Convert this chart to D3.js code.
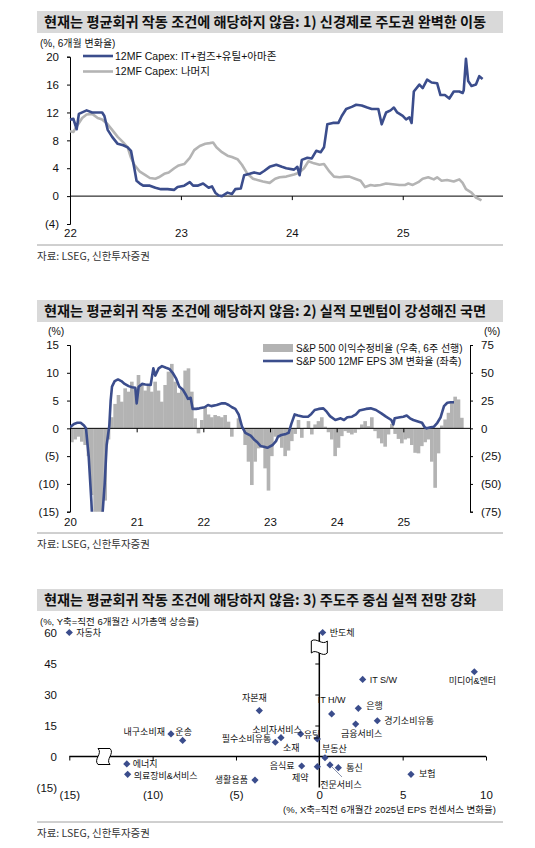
<!DOCTYPE html>
<html>
<head>
<meta charset="utf-8">
<script src="https://cdn.jsdelivr.net/npm/d3@7"></script>
<style>
  body { margin: 0; background: #fff; }
  text { font-family: 'Liberation Sans', 'Noto Sans CJK KR', sans-serif; fill: #111; }
</style>
</head>
<body>
<svg id="chart" width="535" height="848"></svg>
<script>
// ---------- panel 1: 12MF capex, 6m change (%) ----------
var capexDates = [2022.00,2022.03,2022.06,2022.08,2022.15,2022.20,2022.29,2022.31,2022.34,2022.38,2022.43,2022.48,2022.52,2022.55,2022.58,2022.60,2022.63,2022.66,2022.72,2022.77,2022.82,2022.88,2022.94,2022.97,2023.03,2023.08,2023.11,2023.15,2023.20,2023.25,2023.28,2023.31,2023.34,2023.37,2023.42,2023.46,2023.49,2023.54,2023.57,2023.62,2023.66,2023.71,2023.75,2023.80,2023.86,2023.91,2023.95,2024.02,2024.05,2024.07,2024.09,2024.14,2024.18,2024.22,2024.26,2024.29,2024.32,2024.37,2024.42,2024.45,2024.49,2024.54,2024.58,2024.63,2024.68,2024.72,2024.78,2024.81,2024.85,2024.89,2024.92,2024.95,2025.00,2025.03,2025.06,2025.08,2025.10,2025.15,2025.18,2025.22,2025.26,2025.31,2025.34,2025.38,2025.42,2025.46,2025.51,2025.54,2025.55,2025.57,2025.59,2025.62,2025.66,2025.69,2025.72];
var capexTech = [11.0,11.1,9.6,11.8,12.3,12.0,12.0,11.5,9.5,8.5,7.5,7.3,7.0,6.5,4.0,2.2,1.8,1.5,1.5,1.2,1.0,1.0,0.9,1.3,1.5,2.0,1.5,1.5,1.8,1.2,1.4,0.5,0.1,0.0,0.5,0.3,1.0,1.1,3.0,3.2,3.4,3.2,3.6,4.2,4.5,4.2,4.0,3.8,4.2,3.0,5.2,5.5,5.4,6.5,6.3,7.0,10.3,10.5,10.5,11.5,12.5,12.8,13.1,13.0,12.7,12.5,12.5,10.3,12.0,12.3,12.7,12.0,11.5,11.0,11.3,10.5,15.0,16.0,15.5,16.7,16.3,16.2,14.5,14.5,14.0,15.0,15.0,14.8,15.2,19.7,16.5,15.8,16.0,17.2,16.8];

var restDates = [2022.00,2022.03,2022.06,2022.11,2022.15,2022.20,2022.25,2022.29,2022.34,2022.38,2022.43,2022.48,2022.52,2022.55,2022.58,2022.63,2022.68,2022.72,2022.77,2022.80,2022.85,2022.89,2022.94,2022.98,2023.03,2023.08,2023.12,2023.17,2023.22,2023.26,2023.29,2023.32,2023.37,2023.42,2023.46,2023.51,2023.55,2023.60,2023.65,2023.69,2023.74,2023.80,2023.85,2023.89,2023.95,2024.02,2024.06,2024.11,2024.15,2024.20,2024.25,2024.29,2024.34,2024.38,2024.43,2024.48,2024.52,2024.57,2024.62,2024.66,2024.71,2024.75,2024.80,2024.85,2024.91,2024.97,2025.02,2025.05,2025.09,2025.14,2025.18,2025.23,2025.28,2025.31,2025.35,2025.40,2025.46,2025.51,2025.54,2025.57,2025.62,2025.66,2025.71];
var capexRest = [9.3,9.2,10.0,11.2,11.7,11.8,11.2,11.0,10.3,9.5,8.5,7.7,7.0,5.5,4.5,3.5,3.0,2.6,2.5,2.7,3.2,3.4,4.0,4.4,4.6,5.5,6.6,7.2,7.5,7.6,7.7,7.0,6.3,5.8,5.6,5.3,4.5,3.2,2.5,2.3,2.1,1.9,2.5,2.7,2.8,3.1,3.3,4.0,5.0,4.7,4.5,4.6,3.5,2.8,2.7,2.8,2.8,2.5,2.2,1.3,1.6,1.5,1.6,1.8,1.7,1.6,1.6,1.8,1.6,2.0,2.5,2.7,2.4,2.7,2.2,2.3,2.1,2.4,1.9,1.0,0.5,-0.2,-0.6];

var capexTicks = [-4, 0, 4, 8, 12, 16, 20];
var capexYears = [2022, 2023, 2024, 2025];
var capexNames = ["12MF Capex: IT+컴즈+유틸+아마존", "12MF Capex: 나머지"];

// ---------- panel 2: S&P 500 revision ratio (bars, right) and 12MF EPS 3M change (line, left) ----------
var revDates = [2020.00,2020.05,2020.10,2020.15,2020.20,2020.25,2020.30,2020.35,2020.40,2020.45,2020.50,2020.55,2020.60,2020.65,2020.70,2020.75,2020.80,2020.85,2020.90,2020.95,2021.00,2021.05,2021.10,2021.15,2021.20,2021.25,2021.30,2021.35,2021.40,2021.45,2021.50,2021.55,2021.60,2021.65,2021.70,2021.75,2021.80,2021.85,2021.90,2021.95,2022.00,2022.05,2022.10,2022.15,2022.20,2022.25,2022.30,2022.35,2022.40,2022.45,2022.50,2022.55,2022.60,2022.65,2022.70,2022.75,2022.80,2022.85,2022.90,2022.95,2023.00,2023.05,2023.10,2023.15,2023.20,2023.25,2023.30,2023.35,2023.40,2023.45,2023.50,2023.55,2023.60,2023.65,2023.70,2023.75,2023.80,2023.85,2023.90,2023.95,2024.00,2024.05,2024.10,2024.15,2024.20,2024.25,2024.30,2024.35,2024.40,2024.45,2024.50,2024.55,2024.60,2024.65,2024.70,2024.75,2024.80,2024.85,2024.90,2024.95,2025.00,2025.05,2025.10,2025.15,2025.20,2025.25,2025.30,2025.35,2025.40,2025.45,2025.50,2025.55,2025.60,2025.65,2025.70,2025.75,2025.80,2025.85];
var revRatio = [-12.5,-10,-7.5,-12,-15,-25,-60,-80,-90,-90,-65,-10,10,22,30,24,36,33,42,36,48,39,34,39,33,42,34,24,39,51,58,42,32,35,52,54,33,9,-4.5,7.5,19.5,12.5,10,12,11,10,12,6,-7.5,0,9,1.5,-15,-30,-51,-30,-18,-15,-36,-56,-25,-7.5,-8.5,-17.5,-25,-20,-11.5,-5,7.5,-8.5,0.5,6.5,-5.5,3.5,6.5,10,1.5,-3.5,-10,-25,-17.5,-7,-2.5,-4,-5.5,-4,-1,3.5,6.5,2,10,-2.5,-9,-13.5,-16.5,-5.5,4,-5,-9.5,-13.5,-10,-9,-15,-22,-22.5,-16,-12.5,-10,-30,-53.5,-22.5,2.5,8,14,23,28.5,26,9.5];

var epsDates = [2020.00,2020.06,2020.11,2020.16,2020.21,2020.24,2020.28,2020.32,2020.34,2020.39,2020.44,2020.49,2020.52,2020.55,2020.59,2020.61,2020.63,2020.67,2020.72,2020.77,2020.82,2020.88,2020.93,2020.98,2021.00,2021.03,2021.08,2021.13,2021.21,2021.25,2021.28,2021.33,2021.38,2021.44,2021.49,2021.54,2021.59,2021.64,2021.69,2021.74,2021.77,2021.81,2021.84,2021.89,2021.94,2022.02,2022.07,2022.12,2022.20,2022.28,2022.33,2022.38,2022.43,2022.48,2022.53,2022.58,2022.63,2022.71,2022.76,2022.81,2022.86,2022.91,2022.96,2023.04,2023.09,2023.12,2023.17,2023.24,2023.28,2023.32,2023.37,2023.42,2023.50,2023.57,2023.62,2023.67,2023.73,2023.80,2023.85,2023.90,2023.98,2024.06,2024.11,2024.16,2024.23,2024.29,2024.34,2024.44,2024.51,2024.59,2024.67,2024.74,2024.82,2024.85,2024.87,2024.95,2025.00,2025.05,2025.10,2025.15,2025.23,2025.28,2025.32,2025.35,2025.41,2025.46,2025.51,2025.56,2025.61,2025.66,2025.71,2025.76];
var epsChange = [0.2,0.8,1.0,1.0,0.5,0.0,-5,-13,-18,-22,-22,-15,-10,-3,0.5,5,7.5,8.5,8.8,8.5,8.0,7.6,7.4,7.3,4.5,7.5,8.0,7.9,7.8,10.8,9.5,10.8,11.2,10.9,10.7,10.0,9.0,7.5,7.0,6.0,5.3,5.5,3.5,3.5,3.6,3.8,4.2,4.0,4.2,4.5,4.5,4.2,3.8,3.5,2.5,0.3,-0.8,-1.3,-2.0,-2.5,-3.2,-3.3,-3.5,-3.0,-2.3,-1.5,-1.2,-1.0,-0.8,0.8,2.5,2.3,2.1,2.1,2.6,3.3,3.5,3.6,3.0,2.2,1.5,1.8,1.5,2.0,2.1,2.5,3.2,3.5,3.6,3.3,2.7,2.1,1.5,0.7,1.8,2.0,2.1,2.3,1.8,1.5,1.2,1.0,0.2,0.0,0.2,0.3,1.0,2.0,4.0,4.6,4.7,4.7];

var epsTicksL = [-15, -10, -5, 0, 5, 10, 15];
var epsTicksR = [-75, -50, -25, 0, 25, 50, 75];
var epsYears = [2020, 2021, 2022, 2023, 2024, 2025];
var epsNames = ["S&P 500 이익수정비율 (우축, 6주 선행)", "S&P 500 12MF EPS 3M 변화율 (좌축)"];

// ---------- panel 3: sectors, 6m EPS revision (x) vs 6m market-cap change (y) ----------
var sectors = ["자동차","반도체","미디어&엔터","IT S/W","자본재","IT H/W","은행","경기소비유통","금융서비스","내구소비재","운송","소비자서비스","필수소비유통","유틸","소재","부동산","에너지","의료장비&서비스","생활용품","음식료","제약","전문서비스","통신","보험"];
var epsRev = [-15.0,0.2,9.3,2.6,-3.6,0.74,2.34,3.48,2.18,-8.9,-8.2,-2.3,-2.64,-1.12,-0.12,0.34,-11.55,-11.5,-3.86,-1.06,-0.12,0.64,1.14,5.5];
var mcapChg = [60,60,41.0,37.3,22.2,20.6,23.3,17.3,15.7,10.9,7.8,9.1,6.9,10.9,8.5,-0.6,-3.6,-8.6,-11.4,-4.6,-4.9,-4.1,-5.4,-8.6];
var scatterTicksX = [-15, -10, -5, 0, 5, 10];
var scatterTicksY = [-15, 0, 15, 30, 45, 60];

var titles = [
  "현재는 평균회귀 작동 조건에 해당하지 않음: 1) 신경제로 주도권 완벽한 이동",
  "현재는 평균회귀 작동 조건에 해당하지 않음: 2) 실적 모멘텀이 강성해진 국면",
  "현재는 평균회귀 작동 조건에 해당하지 않음: 3) 주도주 중심 실적 전망 강화"
];
var sourceText = "자료: LSEG, 신한투자증권";

// label placement for the scatter (dx, dy, anchor)
var labelPlace = {
  "자동차": [7, 0, "start"], "반도체": [7, 0, "start"], "미디어&엔터": [-2, 9, "middle"],
  "IT S/W": [7, 0, "start"], "자본재": [-5, -13, "middle"], "IT H/W": [0, -14, "middle"],
  "은행": [8, -2, "start"], "경기소비유통": [7, 0, "start"], "금융서비스": [6, 10, "middle"],
  "내구소비재": [-6, -2, "end"], "운송": [1, -9, "middle"], "소비자서비스": [-4, -8, "middle"],
  "필수소비유통": [-4, -3, "end"], "유틸": [3, 1, "start"], "소재": [-26, 9, "middle"],
  "부동산": [-3, -9, "start"], "에너지": [6, 0, "start"], "의료장비&서비스": [6, 2, "start"],
  "생활용품": [-7, 0, "end"], "음식료": [-7, 0, "end"], "제약": [-17, 11, "middle"],
  "전문서비스": [11, 20, "middle"], "통신": [8, 0, "start"], "보험": [8, 0, "start"]
};

var BLUE = "#3b4d8c", GREY = "#b4b4b4", BAR = "#b3b3b3";
var KR = "'Noto Sans CJK KR', sans-serif";
var paren = function(d) { return d < 0 ? "(" + (-d) + ")" : String(d); };

var svg = d3.select("#chart");

function titleBar(y, txt) {
  svg.append("rect").attr("x", 37).attr("y", y).attr("width", 466).attr("height", 22).attr("fill", "#d9d9d9");
  svg.append("text").attr("x", 44).attr("y", y + 11).attr("dy", "0.36em")
    .style("font-family", KR).style("font-weight", "bold").style("font-size", "14.2px")
    .text(txt);
}

function source(y) {
  svg.append("line").attr("x1", 37).attr("x2", 503).attr("y1", y).attr("y2", y)
    .attr("stroke", "#a0a0a0").attr("stroke-width", 1);
  svg.append("text").attr("x", 37).attr("y", y + 11).attr("dy", "0.35em")
    .style("font-family", KR).style("font-size", "10.5px").style("fill", "#333")
    .text(sourceText);
}

function styleAxis(g, size) {
  g.selectAll("text").style("font-size", size || "11px").style("fill", "#111");
  g.selectAll("line").attr("stroke", "#000");
  g.select(".domain").attr("stroke", "#000");
}

// ================= panel 1 =================
titleBar(11, titles[0]);
(function() {
  var x = d3.scaleLinear().domain([2022, 2025.904]).range([70, 503]);
  var y = d3.scaleLinear().domain([-4, 20]).range([224, 56.7]);

  svg.append("text").attr("x", 40).attr("y", 43).attr("dy", "0.35em")
    .style("font-size", "10px").text("(%, 6개월 변화율)");

  var ga = svg.append("g").attr("transform", "translate(70,0)")
    .call(d3.axisLeft(y).tickValues(capexTicks).tickSize(3).tickPadding(8).tickFormat(paren));
  styleAxis(ga, "11.5px");

  svg.append("line").attr("x1", 70).attr("x2", 503).attr("y1", y(0)).attr("y2", y(0))
    .attr("stroke", "#000");
  var gt = svg.append("g").attr("transform", "translate(0," + y(0) + ")")
    .call(d3.axisBottom(x).tickValues(capexYears.slice(1)).tickSize(4).tickFormat(""));
  gt.select(".domain").remove();
  gt.selectAll("line").attr("stroke", "#000");

  var gl = svg.append("g").attr("transform", "translate(0,229)")
    .call(d3.axisBottom(x).tickValues(capexYears).tickSize(0).tickPadding(0)
      .tickFormat(function(d) { return String(d).slice(2); }));
  gl.select(".domain").remove();
  styleAxis(gl, "11.5px");

  var line = d3.line().x(function(d) { return x(d[0]); }).y(function(d) { return y(d[1]); });
  svg.append("path").datum(d3.zip(restDates, capexRest)).attr("d", line)
    .attr("fill", "none").attr("stroke", GREY).attr("stroke-width", 2.6).attr("stroke-linejoin", "round");
  svg.append("path").datum(d3.zip(capexDates, capexTech)).attr("d", line)
    .attr("fill", "none").attr("stroke", BLUE).attr("stroke-width", 2.6).attr("stroke-linejoin", "round");

  [BLUE, GREY].forEach(function(c, i) {
    var ly = 56 + i * 15.5;
    svg.append("line").attr("x1", 83).attr("x2", 113).attr("y1", ly).attr("y2", ly)
      .attr("stroke", c).attr("stroke-width", 2.6);
    svg.append("text").attr("x", 115).attr("y", ly).attr("dy", "0.35em")
      .style("font-size", "10.5px").text(capexNames[i]);
  });
})();
source(245);

// ================= panel 2 =================
titleBar(300, titles[1]);
(function() {
  var x = d3.scaleLinear().domain([2020, 2026]).range([70, 470]);
  var yL = d3.scaleLinear().domain([-15, 15]).range([511.7, 345]);
  var yR = d3.scaleLinear().domain([-75, 75]).range([511.7, 345]);

  svg.append("defs").append("clipPath").attr("id", "clip2")
    .append("rect").attr("x", 70).attr("y", 345).attr("width", 400).attr("height", 166.7);

  svg.append("text").attr("x", 48).attr("y", 331).attr("dy", "0.35em").style("font-size", "10.5px").text("(%)");
  svg.append("text").attr("x", 484).attr("y", 331).attr("dy", "0.35em").style("font-size", "10.5px").text("(%)");

  var bars = d3.zip(revDates, revRatio);
  var barW = x(revDates[1]) - x(revDates[0]);
  svg.append("g").attr("clip-path", "url(#clip2)").selectAll("rect").data(bars).enter().append("rect")
    .attr("x", function(d) { return x(d[0]); })
    .attr("width", barW + 0.3)
    .attr("y", function(d) { return yR(Math.max(0, d[1])); })
    .attr("height", function(d) { return Math.abs(yR(d[1]) - yR(0)); })
    .attr("fill", BAR);

  var gL = svg.append("g").attr("transform", "translate(70,0)")
    .call(d3.axisLeft(yL).tickValues(epsTicksL).tickSize(3).tickPadding(8).tickFormat(paren));
  styleAxis(gL, "11.5px");
  var gR = svg.append("g").attr("transform", "translate(470,0)")
    .call(d3.axisRight(yR).tickValues(epsTicksR).tickSize(3).tickPadding(8).tickFormat(paren));
  styleAxis(gR, "11.5px");

  svg.append("line").attr("x1", 70).attr("x2", 470).attr("y1", yL(0)).attr("y2", yL(0)).attr("stroke", "#000");
  var gt = svg.append("g").attr("transform", "translate(0," + yL(0) + ")")
    .call(d3.axisBottom(x).tickValues(epsYears.slice(1)).tickSize(4).tickFormat(""));
  gt.select(".domain").remove();
  gt.selectAll("line").attr("stroke", "#000");

  var gl = svg.append("g").attr("transform", "translate(0,518)")
    .call(d3.axisBottom(x).tickValues(epsYears).tickSize(0).tickPadding(0)
      .tickFormat(function(d) { return String(d).slice(2); }));
  gl.select(".domain").remove();
  styleAxis(gl, "11.5px");

  var line = d3.line().x(function(d) { return x(d[0]); }).y(function(d) { return yL(d[1]); });
  svg.append("path").datum(d3.zip(epsDates, epsChange)).attr("d", line).attr("clip-path", "url(#clip2)")
    .attr("fill", "none").attr("stroke", BLUE).attr("stroke-width", 2.6).attr("stroke-linejoin", "round");

  svg.append("rect").attr("x", 263).attr("y", 344).attr("width", 30).attr("height", 8).attr("fill", BAR);
  svg.append("text").attr("x", 296).attr("y", 348).attr("dy", "0.35em").style("font-size", "10px").text(epsNames[0]);
  svg.append("line").attr("x1", 263).attr("x2", 293).attr("y1", 361).attr("y2", 361)
    .attr("stroke", BLUE).attr("stroke-width", 2.6);
  svg.append("text").attr("x", 296).attr("y", 361).attr("dy", "0.35em").style("font-size", "10px").text(epsNames[1]);
})();
source(533);

// ================= panel 3 =================
titleBar(589, titles[2]);
(function() {
  var x = d3.scaleLinear().domain([-15, 10]).range([69.3, 486]);
  var y = d3.scaleLinear().domain([-15, 60]).range([787.5, 632.5]);

  svg.append("text").attr("x", 40).attr("y", 622).attr("dy", "0.35em")
    .style("font-size", "9.5px").text("(%, Y축=직전 6개월간 시가총액 상승률)");
  svg.append("text").attr("x", 496).attr("y", 810).attr("dy", "0.35em").attr("text-anchor", "end")
    .style("font-size", "9.5px").text("(%, X축=직전 6개월간 2025년 EPS 컨센서스 변화율)");

  var gy = svg.append("g").attr("transform", "translate(60,0)")
    .call(d3.axisLeft(y).tickValues(scatterTicksY).tickSize(0).tickPadding(3).tickFormat(paren));
  gy.select(".domain").remove();
  styleAxis(gy, "11.5px");

  var gx = svg.append("g").attr("transform", "translate(0,791)")
    .call(d3.axisBottom(x).tickValues(scatterTicksX).tickSize(0).tickPadding(0).tickFormat(paren));
  gx.select(".domain").remove();
  styleAxis(gx, "11.5px");

  // horizontal axis at y = 0
  svg.append("line").attr("x1", x(-15)).attr("x2", x(10)).attr("y1", y(0)).attr("y2", y(0))
    .attr("stroke", "#000").attr("stroke-width", 1.3);
  var th = svg.append("g").attr("transform", "translate(0," + y(0) + ")")
    .call(d3.axisBottom(x).tickValues([-15, -10, -5, 5, 10]).tickSize(4).tickFormat(""));
  th.select(".domain").remove();
  th.selectAll("line").attr("stroke", "#000");

  // vertical axis at x = 0
  svg.append("line").attr("x1", x(0)).attr("x2", x(0)).attr("y1", y(60)).attr("y2", y(-15))
    .attr("stroke", "#000").attr("stroke-width", 1.5);
  var tv = svg.append("g").attr("transform", "translate(" + x(0) + ",0)")
    .call(d3.axisLeft(y).tickValues([15, 30, 45]).tickSize(4).tickFormat(""));
  tv.select(".domain").remove();
  tv.selectAll("line").attr("stroke", "#000");

  // axis break marks
  var bx = 103, by = y(0);
  svg.append("path")
    .attr("d", "M" + (bx - 5) + "," + (by - 8) + " L" + (bx + 7) + "," + (by - 8) +
      " C" + (bx + 12) + "," + (by - 3) + " " + (bx + 2) + "," + (by + 3) + " " + (bx + 7) + "," + (by + 8) +
      " L" + (bx - 5) + "," + (by + 8) +
      " C" + (bx - 10) + "," + (by + 3) + " " + (bx) + "," + (by - 3) + " " + (bx - 5) + "," + (by - 8) + "Z")
    .attr("fill", "#fff").attr("stroke", "#000").attr("stroke-width", 1);
  var vx = x(0), vy = 647;
  svg.append("path")
    .attr("d", "M" + (vx - 8) + "," + (vy - 6) +
      " C" + (vx - 3) + "," + (vy - 10) + " " + (vx + 3) + "," + (vy - 1) + " " + (vx + 8) + "," + (vy - 6) +
      " L" + (vx + 8) + "," + (vy + 6) +
      " C" + (vx + 3) + "," + (vy + 11) + " " + (vx - 3) + "," + (vy + 1) + " " + (vx - 8) + "," + (vy + 6) + "Z")
    .attr("fill", "#fff").attr("stroke", "#000").attr("stroke-width", 1);

  var pts = sectors.map(function(s, i) { return { name: s, x: epsRev[i], y: mcapChg[i] }; });

  // leader for 전문서비스
  var pro = pts[sectors.indexOf("전문서비스")];
  svg.append("line").attr("x1", x(pro.x) + 2).attr("y1", y(pro.y) + 2)
    .attr("x2", x(pro.x) + 12).attr("y2", y(pro.y) + 12)
    .attr("stroke", "#8a93ad").attr("stroke-width", 1);

  var sym = d3.symbol().type(d3.symbolSquare).size(26);
  svg.append("g").selectAll("path").data(pts).enter().append("path")
    .attr("d", sym)
    .attr("transform", function(d) { return "translate(" + x(d.x) + "," + y(d.y) + ") rotate(45)"; })
    .attr("fill", BLUE);

  svg.append("g").selectAll("text").data(pts).enter().append("text")
    .attr("x", function(d) { return x(d.x) + labelPlace[d.name][0]; })
    .attr("y", function(d) { return y(d.y) + labelPlace[d.name][1]; })
    .attr("dy", "0.35em")
    .attr("text-anchor", function(d) { return labelPlace[d.name][2]; })
    .style("font-size", "9px")
    .text(function(d) { return d.name; });
})();
source(822);
</script>
</body>
</html>
